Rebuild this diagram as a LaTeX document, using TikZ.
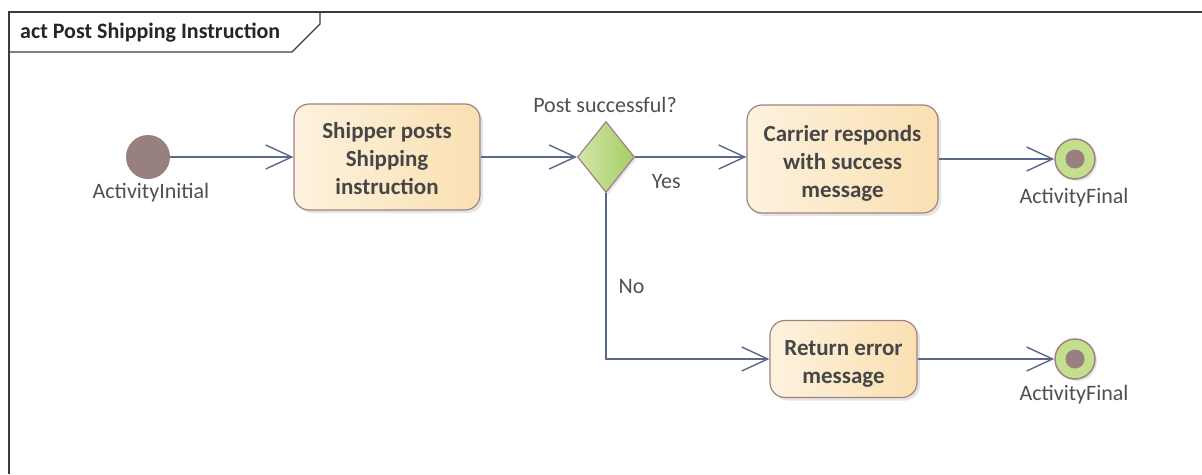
\documentclass[tikz,border=0pt]{standalone}
\usepackage{fontspec}
\setmainfont{Carlito}
\usetikzlibrary{arrows.meta,shapes.geometric,shadows}

\definecolor{flowcol}{RGB}{92,104,136}
\definecolor{framecol}{RGB}{60,60,60}
\definecolor{boxline}{RGB}{160,130,130}
\definecolor{boxleft}{RGB}{253,242,222}
\definecolor{boxright}{RGB}{250,224,178}
\definecolor{decleft}{RGB}{210,230,170}
\definecolor{decright}{RGB}{165,205,100}
\definecolor{nodebrown}{RGB}{152,128,128}
\definecolor{finalgreen}{RGB}{195,222,140}
\definecolor{txtcol}{RGB}{70,70,70}
\definecolor{lblcol}{RGB}{80,80,80}

\tikzset{
  frameline/.style={draw=framecol, line width=1.2pt},
  action/.style={draw=boxline, line width=1.2pt, rounded corners=15pt,
    left color=boxleft, right color=boxright,
    drop shadow={shadow xshift=3pt, shadow yshift=-3pt, opacity=0.2},
    inner sep=0pt},
  acttext/.style={align=center, font=\fontsize{23}{28}\selectfont\bfseries,
    text=txtcol, inner sep=0pt},
  decision/.style={diamond, draw=boxline, line width=1.2pt,
    left color=decleft, right color=decright, inner sep=0pt,
    drop shadow={shadow xshift=2pt, shadow yshift=-2pt, opacity=0.2}},
  initnode/.style={circle, fill=nodebrown, minimum size=44pt, inner sep=0pt},
  finalnode/.style={circle, draw=boxline, line width=1.5pt, fill=finalgreen,
    minimum size=40pt, inner sep=0pt,
    drop shadow={shadow xshift=2pt, shadow yshift=-2pt, opacity=0.2}},
  finaldot/.style={circle, fill=nodebrown, minimum size=19pt, inner sep=0pt},
  lbl/.style={font=\fontsize{22}{26}\selectfont, text=lblcol, inner sep=0pt},
  flow/.style={draw=flowcol, line width=1.4pt,
    -{Straight Barb[length=26pt, width=24pt, line width=1.4pt]}},
}

\begin{document}
\begin{tikzpicture}[x=1pt,y=-1pt]
\useasboundingbox (0,0) rectangle (1202,474);
\fill[white] (0,0) rectangle (1202,474);

% diagram frame with its name tab
\draw[frameline] (9,474) -- (9,12) -- (1202,12);
\draw[frameline] (320,12) -- (320,24) -- (292,52) -- (9,52);
\node[anchor=west, inner sep=0pt, font=\fontsize{22}{26}\selectfont\bfseries,
  text=black!85] (title) at (20,33) {act Post Shipping Instruction};

% activity nodes
\node[initnode] (init) at (148,157) {};
\node[lbl] (initlbl) at (151,193) {ActivityInitial};

\node[action, minimum width=186pt, minimum height=106pt] (ship) at (387,157) {};
\node[acttext, yshift=-1.5pt] (shiptext) at (ship) {Shipper posts\\Shipping\\instruction};

\node[decision, minimum width=57pt, minimum height=71pt] (dec) at (606,157) {};
\node[lbl] (declbl) at (605,105) {Post successful?};

\node[action, minimum width=191pt, minimum height=108pt] (succ) at (842.5,159) {};
\node[acttext, yshift=-4pt] (succtext) at (succ) {Carrier responds\\with success\\message};

\node[action, minimum width=147pt, minimum height=77pt] (err) at (843.5,359) {};
\node[acttext, yshift=-4.5pt] (errtext) at (err) {Return error\\message};

\node[finalnode] (fin1) at (1075,159) {};
\node[finaldot] (fin1dot) at (1075,159) {};
\node[lbl] (fin1lbl) at (1074,198) {ActivityFinal};

\node[finalnode] (fin2) at (1075,359) {};
\node[finaldot] (fin2dot) at (1075,359) {};
\node[lbl] (fin2lbl) at (1074,395) {ActivityFinal};

% control flows
\draw[flow] (init) -- (ship);
\draw[flow] (ship.east |- dec) -- (dec.west);
\draw[flow] (dec.east) -- (succ.west |- dec.east)
  node[lbl, pos=0.28, below=17pt] (yes) {Yes};
\draw[flow] (succ.east) -- (fin1);
\draw[flow] (dec.south) |- (err.west)
  node[lbl, pos=0.283, right=12pt] (no) {No};
\draw[flow] (err.east) -- (fin2);
\end{tikzpicture}
\end{document}
